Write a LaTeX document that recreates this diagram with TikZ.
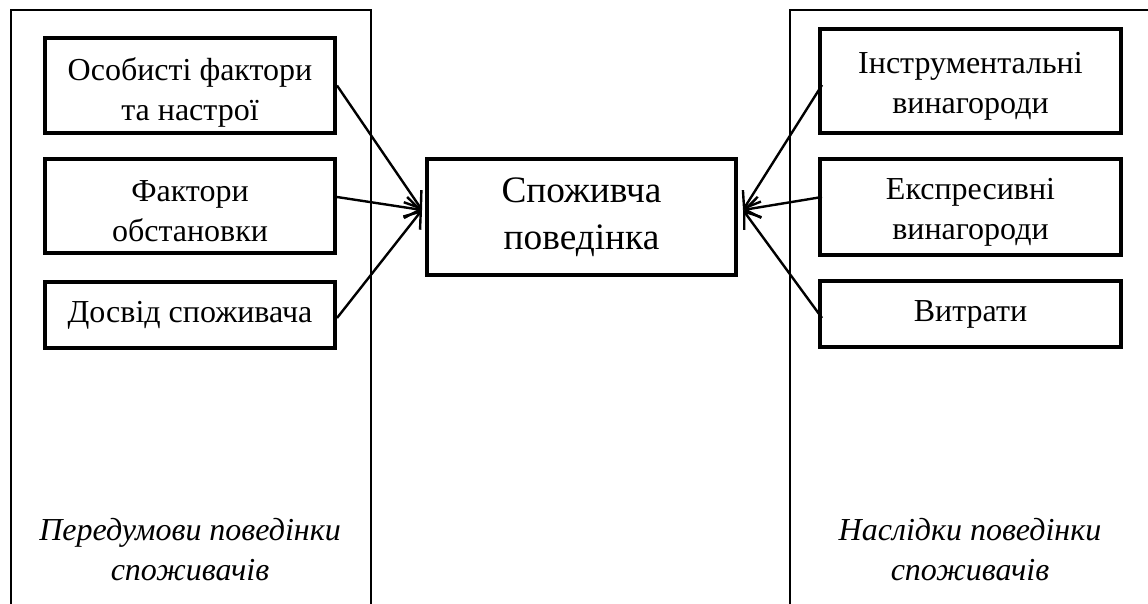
\documentclass[tikz,border=0pt]{standalone}
\usepackage{fontspec}
\setmainfont{Liberation Serif}
\usetikzlibrary{arrows.meta,calc}
\begin{document}
\begin{tikzpicture}[x=0.75pt,y=-0.75pt,
  box/.style={draw, line width=3pt, align=center, inner sep=0pt,
    font=\fontsize{24}{30}\selectfont},
  mainbox/.style={box, font=\fontsize{28}{35}\selectfont},
  frame/.style={line width=1.5pt},
  lab/.style={align=center, inner sep=0pt, font=\fontsize{24}{30}\selectfont\itshape},
  arr/.style={line width=1.8pt, -{Straight Barb[length=11pt,width=16pt,line width=1.8pt]}}]
\useasboundingbox (0,0) rectangle (1148,603);
\clip (0,0) rectangle (1148,603);
% frames
\draw[frame] (11,640) -- (11,10) -- (371,10) -- (371,640);
\draw[frame] (790,640) -- (790,10) -- (1170,10) -- (1170,640);
% left boxes
\node[box, minimum width=217.5pt, minimum height=71.25pt] (L1) at (190,85.5) {\rule{0pt}{27pt}Особисті фактори\\та настрої};
\node[box, minimum width=217.5pt, minimum height=70.5pt] (L2) at (190,206) {\rule{0pt}{24pt}Фактори\\обстановки};
\node[box, minimum width=217.5pt, minimum height=49.5pt] (L3) at (190,315) {Досвід споживача};
% centre
\node[mainbox, minimum width=231.75pt, minimum height=87pt] (C) at (581.5,217) {Споживча\\поведінка};
% right boxes
\node[box, minimum width=225.75pt, minimum height=78pt] (R1) at (970.5,81) {\rule{0pt}{24pt}Інструментальні\\винагороди};
\node[box, minimum width=225.75pt, minimum height=72pt] (R2) at (970.5,207) {\rule{0pt}{24pt}Експресивні\\винагороди};
\node[box, minimum width=225.75pt, minimum height=49.5pt] (R3) at (970.5,314) {Витрати};
% labels
\node[lab] (PL) at (190,550) {Передумови поведінки\\споживачів};
\node[lab] (PR) at (970,550) {Наслідки поведінки\\споживачів};
% arrow end points
\coordinate (CinL) at ($(C.west)+(-3,-7)$);
\coordinate (CinR) at ($(C.east)+(5,-7)$);
\coordinate (sL2) at ($(L2.east)+(0,-9)$);
\coordinate (sL3) at ($(L3.east)+(0,3)$);
\coordinate (sR1) at ($(R1.west)+(4,4)$);
\coordinate (sR2) at ($(R2.west)+(4,-10)$);
\coordinate (sR3) at ($(R3.west)+(4,4)$);
\draw[arr] (L1.east) -- (CinL);
\draw[arr] (sL2) -- (CinL);
\draw[arr] (sL3) -- (CinL);
\draw[arr] (sR1) -- (CinR);
\draw[arr] (sR2) -- (CinR);
\draw[arr] (sR3) -- (CinR);
\end{tikzpicture}
\end{document}
